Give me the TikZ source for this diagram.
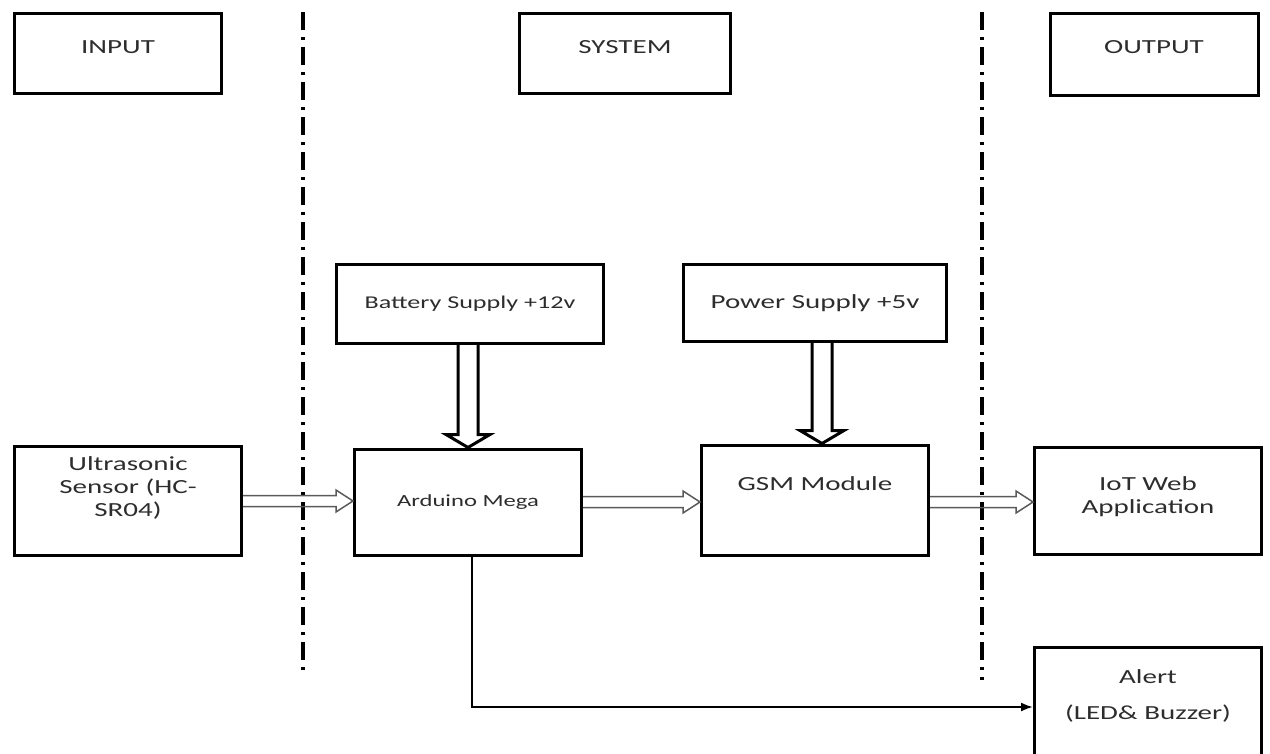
\documentclass[tikz,border=0pt]{standalone}
\usepackage{fontspec}
\usepackage{tikz}
\usetikzlibrary{arrows.meta, positioning, calc}
\newfontfamily\diagfont[FakeStretch=1.45]{Carlito}
\definecolor{mytext}{RGB}{45,45,45}
\definecolor{mygrayline}{RGB}{90,90,90}
\tikzset{
  block/.style={rectangle, draw=black, line width=3pt, inner sep=0pt,
    align=center, text=mytext, font=\diagfont\fontsize{20}{23}\selectfont},
  lift/.style={text depth=#1},
  flowarrow/.style={line width=1.5pt, draw=mygrayline, line join=miter},
  powerarrow/.style={line width=3pt, draw=black, line join=miter},
  alertline/.style={line width=2pt, -{Latex[length=12pt, width=9pt]}},
  divider/.style={line width=4pt, dash pattern=on 18pt off 7pt on 3pt off 7pt}
}
% hollow arrows: #2 = start, #3 = tip
\newcommand{\fatright}[3][]{%
  \draw[#1] ($#2+(0,-5.5)$) -| ($#3+(-17,-11)$) -- #3 -- ($#3+(-17,11)$) |- ($#2+(0,5.5)$);}
\newcommand{\fatdown}[3][]{%
  \draw[#1] ($#2+(-10,0)$) |- ($#3+(-22,-13)$) -- #3 -- ($#3+(22,-13)$) -| ($#2+(10,0)$);}

\begin{document}
\begin{tikzpicture}[x=1pt, y=-1pt]
  \useasboundingbox (0,0) rectangle (1270,754);

  % Section headers
  \node[block, lift=14pt, minimum width=207pt, minimum height=80pt] (input) at (118,54) {INPUT};
  \node[block, lift=14pt, minimum width=211pt, minimum height=80pt] (system) at (625,54) {SYSTEM};
  \node[block, lift=16pt, minimum width=208pt, minimum height=82pt] (output) at (1154,55) {OUTPUT};

  % Dividers
  \draw[divider] (303,12) -- (303,670);
  \draw[divider] (982,12) -- (982,680);

  % Supplies
  \node[block, minimum width=267pt, minimum height=79pt,
    font=\diagfont\fontsize{18}{21}\selectfont] (battery) at (470,304) {Battery Supply +12v};
  \node[block, minimum width=263pt, minimum height=77pt] (power) at (815,303) {Power Supply +5v};

  % Main chain
  \node[block, lift=28pt, minimum width=227pt, minimum height=109pt] (sensor) at (128,501)
    {Ultrasonic\\Sensor (HC-\\SR04)};
  \node[block, minimum width=227pt, minimum height=106pt,
    font=\diagfont\fontsize{17}{20}\selectfont] (arduino) at (468,502) {Arduino Mega};
  \node[block, lift=32pt, minimum width=227pt, minimum height=110pt] (gsm) at (815,500) {GSM Module};
  \node[block, lift=12pt, minimum width=227pt, minimum height=107pt] (iot) at (1148,501)
    {IoT Web\\Application};
  \node[block, lift=24pt, minimum width=227pt, minimum height=120pt] (alert) at (1148,707)
    {Alert\\[13pt](LED\& Buzzer)};

  % Connections
  \fatdown[powerarrow]{(battery.south -| arduino.north)}{(arduino.north)}
  \fatdown[powerarrow]{([xshift=7pt]power.south)}{([xshift=7pt]gsm.north)}
  \fatright[flowarrow]{(sensor.east)}{(sensor.east -| arduino.west)}
  \fatright[flowarrow]{(arduino.east)}{(arduino.east -| gsm.west)}
  \fatright[flowarrow]{([yshift=-2pt]gsm.east)}{([yshift=-2pt]gsm.east -| iot.west)}
  \draw[alertline] ([xshift=4pt]arduino.south) |- (alert.west);
\end{tikzpicture}
\end{document}
